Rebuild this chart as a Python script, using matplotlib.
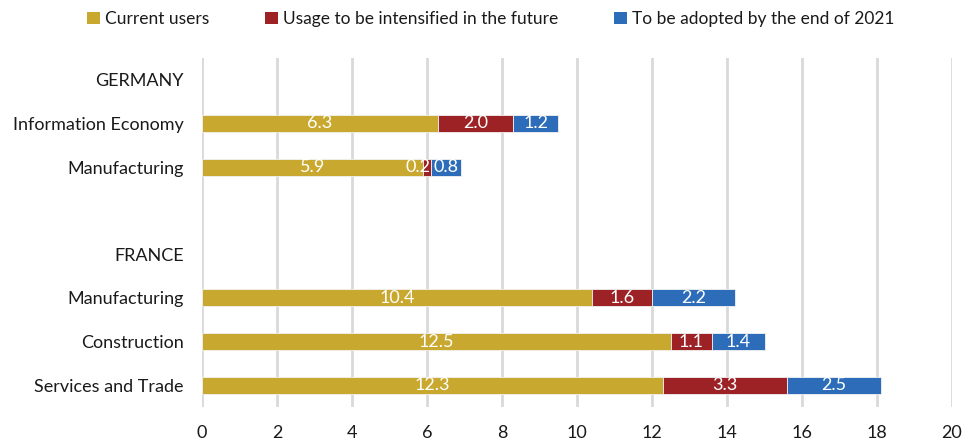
import numpy as np
from matplotlib import pyplot as plt
from matplotlib.patches import Patch

plt.rcParams['font.family'] = ['Lato', 'DejaVu Sans']

categories = ["GERMANY", "Information Economy", "Manufacturing", "",
              "FRANCE", "Manufacturing", "Construction", "Services and Trade"]
current_users = [np.nan, 6.3, 5.9, np.nan, np.nan, 10.4, 12.5, 12.3]
intensified = [np.nan, 2.0, 0.2, np.nan, np.nan, 1.6, 1.1, 3.3]
adopted_2021 = [np.nan, 1.2, 0.8, np.nan, np.nan, 2.2, 1.4, 2.5]

series = ["Current users", "Usage to be intensified in the future", "To be adopted by the end of 2021"]
colors = ["#C9A82F", "#9C2226", "#2C6CB9"]

fig = plt.figure(figsize=(9.66, 4.45), dpi=100)
ax = fig.add_axes([202 / 966, 1 - 407 / 445, 750 / 966, 349 / 445])

y = np.arange(len(categories))
left = np.zeros(len(categories))
for vals, col in zip([current_users, intensified, adopted_2021], colors):
    vals = np.array(vals, dtype=float)
    ax.barh(y, vals, left=left, height=0.39, color=col, edgecolor="#f2f2f2", linewidth=0.6, zorder=3)
    for yi, (l, v) in enumerate(zip(left, vals)):
        if np.isnan(v):
            continue
        if v < 0.5:
            # too narrow: label sits just left of the segment's end, like the original
            ax.text(l + v, yi, f"{v:.1f}", ha="right", va="center",
                    color="white", fontsize=13, zorder=4)
        else:
            ax.text(l + v / 2, yi, f"{v:.1f}", ha="center", va="center",
                    color="white", fontsize=13, zorder=4)
    left = left + np.nan_to_num(vals)

ax.set_xlim(0, 20)
ax.set_ylim(7.5, -0.5)
ax.set_xticks(range(0, 21, 2))
ax.set_yticks(y)
ax.set_yticklabels(categories, fontsize=13, color="#1a1a1a")
ax.tick_params(axis="y", length=0, pad=13)
ax.tick_params(axis="x", length=0, pad=13, labelsize=13, labelcolor="#1a1a1a")
ax.grid(axis="x", color="#d9d9d9", linewidth=2, zorder=0)
for s in ax.spines.values():
    s.set_visible(False)

handles = [Patch(facecolor=c) for c in colors]
fig.legend(handles, series, loc="upper center", bbox_to_anchor=(0.508, 1.01), ncol=3,
           frameon=False, fontsize=12.5, handlelength=0.75, handleheight=0.75,
           handletextpad=0.3, columnspacing=3.2, labelcolor="#1a1a1a")

fig.savefig("out.png", dpi=100)
